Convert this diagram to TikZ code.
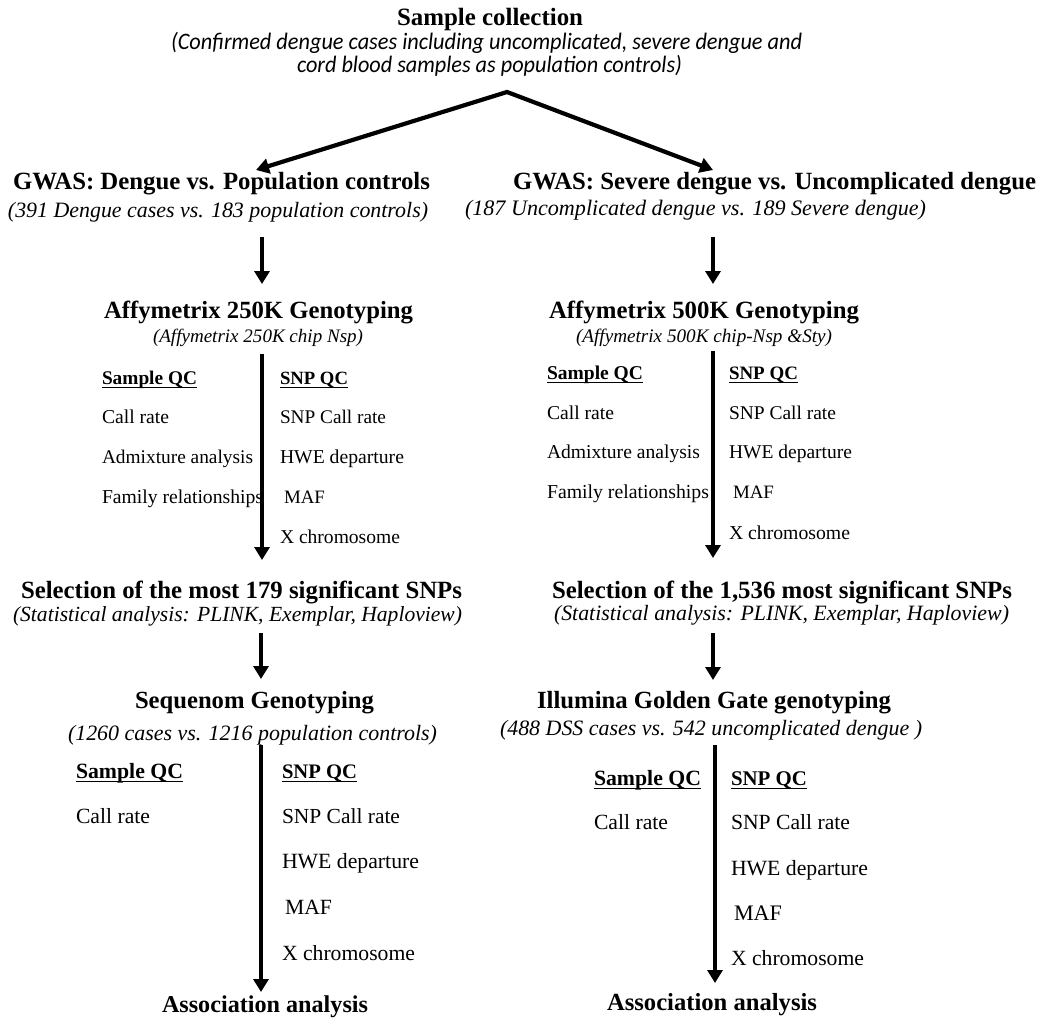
\documentclass[tikz,border=0pt]{standalone}
\usepackage{fontspec}
\setmainfont{Liberation Serif}
\newfontfamily\descfont{Carlito}
\usetikzlibrary{arrows.meta}
% scale a piece of text to a given width (in pt), keeping its aspect ratio
\newcommand{\fitto}[2]{\resizebox{#1pt}{!}{#2}}
% \lab{name}{x}{baseline}{width}{text}
\newcommand{\lab}[5]{\node[lbl] (#1) at (#2,#3) {\fitto{#4}{#5}};}
% slightly taller italic for the sampling description
\newcommand{\desc}[1]{\scalebox{1}[1.06]{\descfont\itshape #1}}
\begin{document}
\begin{tikzpicture}[x=1pt,y=-1pt,
  lbl/.style={inner sep=0pt, outer sep=0pt, anchor=base west},
  flow/.style={line width=4.2pt, -{Triangle[width=15pt,length=13pt]}},
  split/.style={line width=4.2pt, line join=miter,
    {Triangle[width=15pt,length=13pt]}-{Triangle[width=15pt,length=13pt]}},
  uline/.style={line width=1.4pt}]
\fill[white] (0,0) rectangle (1048,1017);
\useasboundingbox (0,0) rectangle (1048,1017);

% ---- top
\lab{top}{397}{25}{186}{\bfseries Sample collection}
\lab{topa}{171}{49}{631}{\desc{(Confirmed dengue cases including uncomplicated, severe dengue and}}
\lab{topb}{297}{72}{385}{\desc{cord blood samples as population controls)}}

% ---- left branch
\lab{gwasL}{13}{189}{417}{\bfseries GWAS: Dengue vs. Population controls}
\lab{gwasLd}{8}{217}{420}{\itshape (391 Dengue cases vs. 183 population controls)}
\lab{affL}{104}{318}{309}{\bfseries Affymetrix 250K Genotyping}
\lab{affLd}{153}{342}{210}{\itshape (Affymetrix 250K chip Nsp)}
\lab{sqcL}{102}{384}{95}{\bfseries Sample QC}
\lab{nqcL}{280}{384}{68}{\bfseries SNP QC}
\lab{crL}{102}{423}{67}{Call rate}
\lab{admL}{102}{463}{151}{Admixture analysis}
\lab{famL}{102}{503}{161}{Family relationships}
\lab{snpcrL}{280}{423}{106}{SNP Call rate}
\lab{hweL}{280}{463}{124}{HWE departure}
\lab{mafL}{284}{503}{41}{MAF}
\lab{xchrL}{280}{543}{120}{X chromosome}
\lab{selL}{21}{598}{441}{\bfseries Selection of the most 179 significant SNPs}
\lab{selLd}{13}{621}{449}{\itshape (Statistical analysis: PLINK, Exemplar, Haploview)}
\lab{seqL}{135}{708}{239}{\bfseries Sequenom Genotyping}
\lab{seqLd}{68}{740}{369}{\itshape (1260 cases vs. 1216 population controls)}
\lab{sqc2L}{76}{778}{107}{\bfseries Sample QC}
\lab{nqc2L}{282}{778}{75}{\bfseries SNP QC}
\lab{cr2L}{76}{823}{74}{Call rate}
\lab{snpcr2L}{282}{823}{118}{SNP Call rate}
\lab{hwe2L}{282}{868}{137}{HWE departure}
\lab{maf2L}{285}{914}{47}{MAF}
\lab{xchr2L}{282}{960}{133}{X chromosome}
\lab{assocL}{162}{1012}{206}{\bfseries Association analysis}

% ---- right branch
\lab{gwasR}{513}{189}{523}{\bfseries GWAS: Severe dengue vs. Uncomplicated dengue}
\lab{gwasRd}{465}{215}{461}{\itshape (187 Uncomplicated dengue vs. 189 Severe dengue)}
\lab{affR}{549}{318}{310}{\bfseries Affymetrix 500K Genotyping}
\lab{affRd}{576}{342}{256}{\itshape (Affymetrix 500K chip-Nsp \&Sty)}
\lab{sqcR}{547}{379}{96}{\bfseries Sample QC}
\lab{nqcR}{729}{379}{69}{\bfseries SNP QC}
\lab{crR}{547}{419}{67}{Call rate}
\lab{admR}{547}{458}{153}{Admixture analysis}
\lab{famR}{547}{498}{162}{Family relationships}
\lab{snpcrR}{729}{419}{107}{SNP Call rate}
\lab{hweR}{729}{458}{123}{HWE departure}
\lab{mafR}{733}{498}{41}{MAF}
\lab{xchrR}{729}{539}{121}{X chromosome}
\lab{selR}{552}{598}{460}{\bfseries Selection of the 1,536 most significant SNPs}
\lab{selRd}{554}{620}{455}{\itshape (Statistical analysis: PLINK, Exemplar, Haploview)}
\lab{illR}{537}{708}{354}{\bfseries Illumina Golden Gate genotyping}
\lab{illRd}{500}{735}{422}{\itshape (488 DSS cases vs. 542 uncomplicated dengue )}
\lab{sqc2R}{594}{785}{107}{\bfseries Sample QC}
\lab{nqc2R}{731}{785}{76}{\bfseries SNP QC}
\lab{cr2R}{594}{829}{74}{Call rate}
\lab{snpcr2R}{731}{829}{119}{SNP Call rate}
\lab{hwe2R}{731}{875}{137}{HWE departure}
\lab{maf2R}{734}{920}{48}{MAF}
\lab{xchr2R}{731}{965}{133}{X chromosome}
\lab{assocR}{607}{1010}{210}{\bfseries Association analysis}

% ---- underlines of the QC headings
\foreach \n in {sqcL,nqcL,sqc2L,nqc2L,sqcR,nqcR,sqc2R,nqc2R}
  \draw[uline] ([yshift=-3.5pt]\n.base west) -- ([yshift=-3.5pt]\n.base east);

% ---- split into the two studies
\coordinate (apex) at (507,92);
\coordinate (tipL) at (256,170);
\coordinate (tipR) at (713,170);
\draw[split] (tipL) -- (apex) -- (tipR);

% ---- vertical flow arrows
\coordinate (aL1) at (262,237);  \coordinate (bL1) at (262,284);
\coordinate (aL2) at (262,354);  \coordinate (bL2) at (262,560);
\coordinate (aL3) at (261,633);  \coordinate (bL3) at (261,679);
\coordinate (aL4) at (261,745);  \coordinate (bL4) at (261,992);
\coordinate (aR1) at (713,237);  \coordinate (bR1) at (713,284);
\coordinate (aR2) at (713,351);  \coordinate (bR2) at (713,558);
\coordinate (aR3) at (713,633);  \coordinate (bR3) at (713,680);
\coordinate (aR4) at (715,745);  \coordinate (bR4) at (715,983);
\foreach \s in {L1,L2,L3,L4,R1,R2,R3,R4}
  \draw[flow] (a\s) -- (b\s);
\end{tikzpicture}
\end{document}
